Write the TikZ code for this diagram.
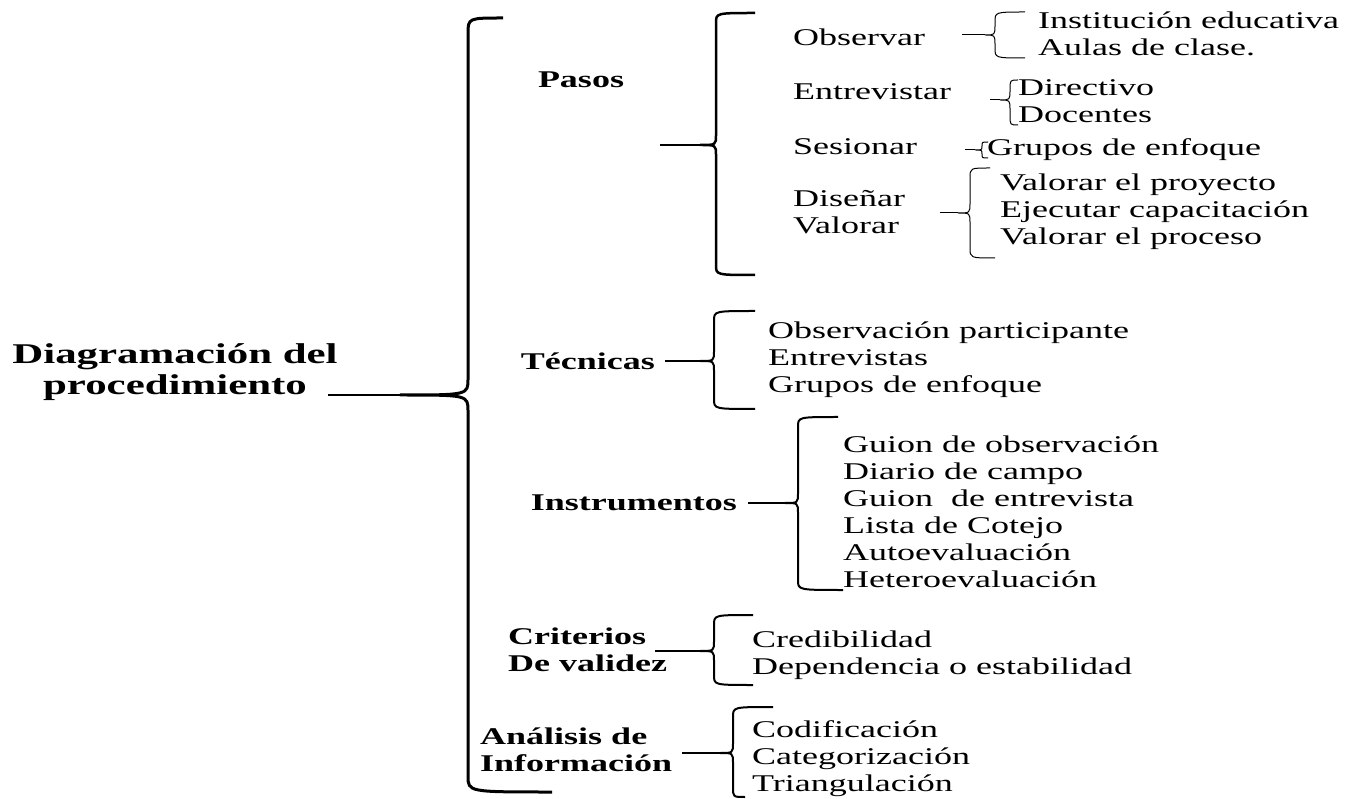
\documentclass[tikz,border=0pt]{standalone}
\usepackage{fontspec}
\setmainfont[FakeStretch=1.5]{Liberation Serif}
\usetikzlibrary{positioning}

% llave: [estilo]{nombre punta}{y arriba}{x vertical}{y medio}{x punta}{x fin arriba}{y abajo}{x fin abajo}
\newcommand\radio{10}
\newcommand\llave[9][]{%
  \pgfmathsetmacro\rr{min(\radio,(#5-#3)/2)}%
  \coordinate (#2) at (#6,#5);
  \draw[brace,#1] (#7,#3) .. controls (#4,#3) .. (#4,#3+\rr) -- (#4,#5-\rr)
    .. controls (#4,#5) .. (#2) .. controls (#4,#5) .. (#4,#5+\rr)
    -- (#4,#8-\rr) .. controls (#4,#8) .. (#9,#8);}

\tikzset{
  txt/.style={inner sep=0pt, align=left, font=\fontsize{24}{27}\selectfont},
  lbl/.style={inner sep=0pt, align=left, font=\fontsize{24}{27}\selectfont\bfseries},
  brace/.style={line width=1pt, line join=round},
  tail/.style={line width=1.2pt},
}

\begin{document}
\begin{tikzpicture}[x=1pt, y=-1pt]
\useasboundingbox (0,0) rectangle (1358,799);

% titulo
\node[inner sep=0pt, align=center, font=\fontsize{28.6}{31}\selectfont\bfseries] (titulo) at (175,372) {Diagramación del\\procedimiento};
\coordinate (raiz) at (328,395);
\renewcommand\radio{16}
\llave[line width=3pt]{tipMain}{18}{468}{395}{400}{503}{792}{552}
\draw[tail, line width=2pt] (raiz) -- (tipMain);
\renewcommand\radio{10}

% pasos
\node[lbl] (pasos) at (581,80) {Pasos};
\coordinate (pasosT) at (660,145);
\llave[line width=2.5pt]{tipPasos}{13}{716}{145}{700}{755}{275}{755}
\draw[tail, line width=1.8pt] (pasosT) -- (tipPasos);

\node[txt, anchor=west] (obs) at (793,37) {Observar};
\node[txt, anchor=west] (ent) at (793,92) {Entrevistar};
\node[txt, anchor=west] (ses) at (793,147) {Sesionar};
\node[txt, anchor=west] (dis) at (793,212) {Diseñar\\Valorar};

\coordinate (obsT) at (962,35);
\coordinate (entT) at (990,100);
\coordinate (sesT) at (965,150);
\coordinate (disT) at (940,213);
\llave{tipObs}{12}{995}{35}{985}{1025}{58}{1025}
\llave{tipEnt}{80}{1010}{100}{1000}{1018}{125}{1018}
\llave{tipSes}{142}{982}{150}{975}{988}{158}{988}
\llave{tipDis}{168}{970}{213}{958}{990}{258}{995}
\draw[tail, line width=1pt] (obsT) -- (tipObs);
\draw[tail, line width=1pt] (entT) -- (tipEnt);
\draw[tail, line width=1pt] (sesT) -- (tipSes);
\draw[tail, line width=1pt] (disT) -- (tipDis);

\node[txt, anchor=west] (obsItems) at (1038,34) {Institución educativa\\Aulas de clase.};
\node[txt, anchor=west] (entItems) at (1018,101) {Directivo\\Docentes};
\node[txt, anchor=west] (sesItems) at (987,150) {Grupos de enfoque};
\node[txt, anchor=west] (disItems) at (1000,212) {Valorar el proyecto\\Ejecutar capacitación\\Valorar el proceso};

% tecnicas
\node[lbl, anchor=east] (tec) at (655,361) {Técnicas};
\llave[line width=2pt]{tipTec}{311}{714}{361}{700}{755}{409}{755}
\draw[tail, shorten <=10pt] (tec) -- (tipTec);
\node[txt, anchor=west] (tecItems) at (768,360) {Observación participante\\Entrevistas\\Grupos de enfoque};

% instrumentos
\node[lbl, anchor=east] (ins) at (737,503) {Instrumentos};
\llave[line width=2pt]{tipIns}{417}{798}{503}{785}{838}{590}{843}
\draw[tail, shorten <=11pt] (ins) -- (tipIns);
\node[txt, anchor=west] (insItems) at (843,512) {Guion de observación\\Diario de campo\\Guion\ \ de entrevista\\Lista de Cotejo\\Autoevaluación\\Heteroevaluación};

% criterios
\node[lbl, anchor=west] (cri) at (508,650) {Criterios\\De validez};
\coordinate (criT) at (655,651);
\llave[line width=2pt]{tipCri}{615}{714}{651}{700}{753}{685}{753}
\draw[tail] (criT) -- (tipCri);
\node[txt, anchor=west] (criItems) at (752,655) {Credibilidad\\Dependencia o estabilidad};

% analisis
\node[lbl, anchor=west] (ana) at (480,750) {Análisis de\\Información};
\coordinate (anaT) at (682,753);
\llave[line width=2pt]{tipAna}{707}{733}{753}{720}{773}{797}{745}
\draw[tail] (anaT) -- (tipAna);
\node[txt, anchor=west] (anaItems) at (752,759) {Codificación\\Categorización\\Triangulación};
\end{tikzpicture}
\end{document}
